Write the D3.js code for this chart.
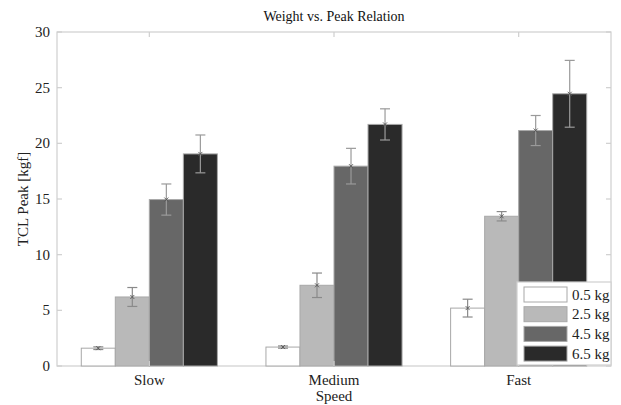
<!DOCTYPE html>
<html><head><meta charset="utf-8">
<script src="https://cdn.jsdelivr.net/npm/d3@7"></script>
<style>body{margin:0;background:#fff}svg{display:block}text{font-family:"Liberation Serif","Times New Roman",serif}</style>
</head><body><svg id="c" width="621" height="405"></svg>
<script>
const categories = ["Slow", "Medium", "Fast"];
const series = ["0.5 kg", "2.5 kg", "4.5 kg", "6.5 kg"];
const means = [
  [1.6, 6.2, 14.95, 19.05],
  [1.7, 7.25, 17.95, 21.7],
  [5.2, 13.45, 21.15, 24.45]
];
const errors = [
  [0.12, 0.85, 1.4, 1.7],
  [0.1, 1.1, 1.6, 1.4],
  [0.8, 0.42, 1.35, 3.0]
];
const yTicks = [0, 5, 10, 15, 20, 25, 30];
const colors = ["#ffffff", "#b9b9b9", "#676767", "#2a2a2a"];

const svg = d3.select("#c");
const L = 57, R = 611, T = 32, B = 366;
const x = d3.scaleLinear().domain([0.5, 3.5]).range([L, R]);
const y = d3.scaleLinear().domain([0, 30]).range([B, T]);
const groupW = 0.737, barW = groupW / series.length;

// frame
svg.append("rect").attr("x", L).attr("y", T).attr("width", R - L).attr("height", B - T)
  .attr("fill", "#fff").attr("stroke", "#cfcfcf").attr("stroke-width", 1.2);

// bars
categories.forEach((c, i) => {
  series.forEach((s, j) => {
    const x0 = x(i + 1 - groupW / 2 + j * barW);
    const x1 = x(i + 1 - groupW / 2 + (j + 1) * barW);
    svg.append("rect").attr("x", x0).attr("y", y(means[i][j]))
      .attr("width", x1 - x0).attr("height", y(0) - y(means[i][j]))
      .attr("fill", colors[j]).attr("stroke", "#a8a8a8").attr("stroke-width", 1);
  });
});
// error bars
categories.forEach((c, i) => {
  series.forEach((s, j) => {
    const cx = x(i + 1 - groupW / 2 + (j + 0.5) * barW);
    const m = means[i][j], e = errors[i][j];
    const g = svg.append("g").attr("stroke", j >= 2 ? "#9a9a9a" : "#8a8a8a").attr("stroke-width", 1.2).attr("fill", "none");
    g.append("line").attr("x1", cx).attr("x2", cx).attr("y1", y(m - e)).attr("y2", y(m + e));
    [m - e, m + e].forEach(v => g.append("line").attr("x1", cx - 5).attr("x2", cx + 5).attr("y1", y(v)).attr("y2", y(v)));
    g.append("path").attr("d", `M${cx-2},${y(m)-2}L${cx+2},${y(m)+2}M${cx-2},${y(m)+2}L${cx+2},${y(m)-2}`).attr("stroke", "#555").attr("stroke-width", 0.9);
  });
});

// ticks
const tk = svg.append("g").attr("stroke", "#cfcfcf").attr("stroke-width", 1.2);
yTicks.forEach(v => {
  tk.append("line").attr("x1", L).attr("x2", L + 5).attr("y1", y(v)).attr("y2", y(v));
  tk.append("line").attr("x1", R).attr("x2", R - 5).attr("y1", y(v)).attr("y2", y(v));
});
categories.forEach((c, i) => {
  tk.append("line").attr("x1", x(i + 1)).attr("x2", x(i + 1)).attr("y1", B).attr("y2", B - 5);
  tk.append("line").attr("x1", x(i + 1)).attr("x2", x(i + 1)).attr("y1", T).attr("y2", T + 5);
});

// axis labels
svg.append("g").selectAll("text").data(yTicks).join("text")
  .attr("x", L - 7).attr("y", d => y(d) + 5).attr("text-anchor", "end")
  .attr("font-size", 15).attr("fill", "#222").text(d => d);
svg.append("g").selectAll("text").data(categories).join("text")
  .attr("x", (d, i) => x(i + 1)).attr("y", 385).attr("text-anchor", "middle")
  .attr("font-size", 15).attr("fill", "#222").text(d => d);
svg.append("text").attr("x", x(2)).attr("y", 401).attr("text-anchor", "middle")
  .attr("font-size", 15).attr("fill", "#222").text("Speed");
svg.append("text").attr("transform", `translate(28,${(T + B) / 2}) rotate(-90)`)
  .attr("text-anchor", "middle").attr("font-size", 15).attr("fill", "#222").text("TCL Peak [kgf]");
svg.append("text").attr("x", x(2)).attr("y", 21).attr("text-anchor", "middle")
  .attr("font-size", 14).attr("fill", "#111").text("Weight vs. Peak Relation");

// legend
const lg = svg.append("g");
lg.append("rect").attr("x", 517).attr("y", 282).attr("width", 94).attr("height", 83)
  .attr("fill", "#fff").attr("stroke", "#cfcfcf").attr("stroke-width", 1.2);
series.forEach((s, j) => {
  const yy = 287 + j * 19.7;
  lg.append("rect").attr("x", 524).attr("y", yy).attr("width", 43).attr("height", 15)
    .attr("fill", colors[j]).attr("stroke", "#a8a8a8").attr("stroke-width", 1);
  lg.append("text").attr("x", 572).attr("y", yy + 12.5).attr("font-size", 15).attr("fill", "#222").text(s);
});
</script></body></html>
